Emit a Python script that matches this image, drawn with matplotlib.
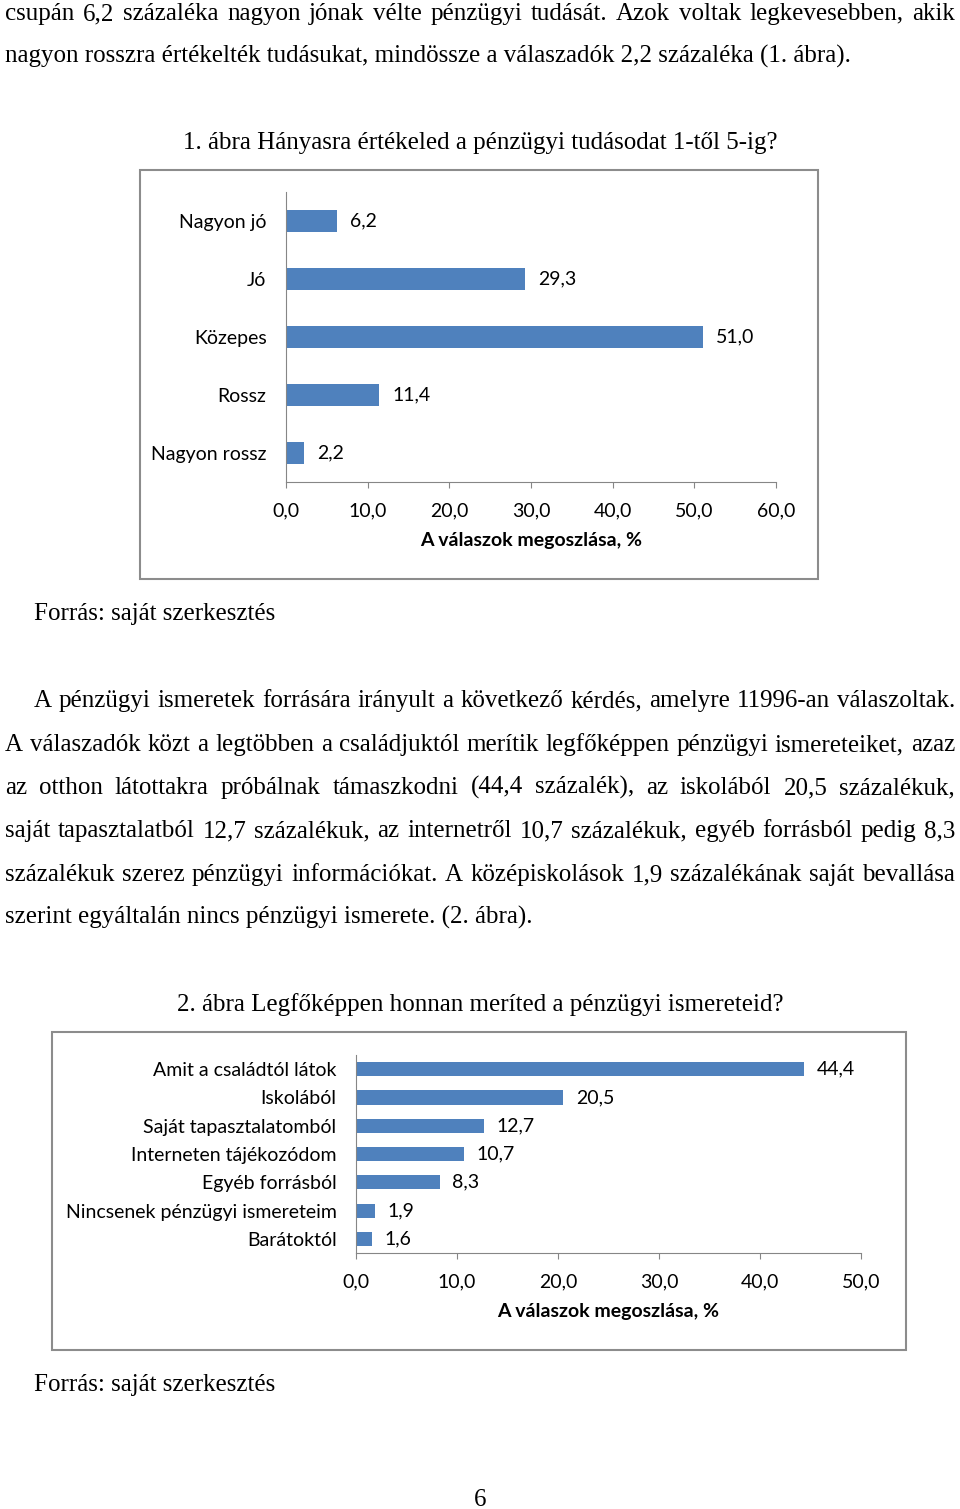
import matplotlib
matplotlib.use('Agg')
import matplotlib.pyplot as plt
from matplotlib.patches import Rectangle

# chart 1 data
cats1 = ['Nagyon jó', 'Jó', 'Közepes', 'Rossz', 'Nagyon rossz']
vals1 = [6.2, 29.3, 51.0, 11.4, 2.2]
ticks1 = [0, 10, 20, 30, 40, 50, 60]

# chart 2 data
cats2 = ['Amit a családtól látok', 'Iskolából', 'Saját tapasztalatomból',
         'Interneten tájékozódom', 'Egyéb forrásból',
         'Nincsenek pénzügyi ismereteim', 'Barátoktól']
vals2 = [44.4, 20.5, 12.7, 10.7, 8.3, 1.9, 1.6]
ticks2 = [0, 10, 20, 30, 40, 50]

W, H = 960, 1509
fig = plt.figure(figsize=(W / 100, H / 100), dpi=100)
renderer = fig.canvas.get_renderer()

SERIF = 'Liberation Serif'
SANS = 'Lato'
BODY = 18
CH = 14
BLUE = '#4F81BD'
GRAY = '#868686'


def fx(x):
    return x / W


def fy(y):
    return 1 - y / H


def put(s, x, y, ha='left', size=BODY):
    return fig.text(fx(x), fy(y), s, ha=ha, va='baseline', family=SERIF,
                    fontsize=size)


def justify(s, x0, x1, y, size=BODY):
    # spread the words so the line fills x0..x1 (justified paragraph)
    words = s.split()
    texts = [put(w, 0, y, size=size) for w in words]
    widths = [t.get_window_extent(renderer).width for t in texts]
    gap = (x1 - x0 - sum(widths)) / (len(words) - 1)
    x = x0
    for t, w in zip(texts, widths):
        t.set_x(fx(x))
        x += w + gap


# body text
justify('csupán 6,2 százaléka nagyon jónak vélte pénzügyi tudását. Azok voltak legkevesebben, akik',
        5, 955, 20)
put('nagyon rosszra értékelték tudásukat, mindössze a válaszadók 2,2 százaléka (1. ábra).', 5, 63)
put('1. ábra Hányasra értékeled a pénzügyi tudásodat 1-től 5-ig?', 480, 149, ha='center')
put('Forrás: saját szerkesztés', 34, 620)

para = [
    ('A pénzügyi ismeretek forrására irányult a következő kérdés, amelyre 11996-an válaszoltak.', 34, 707),
    ('A válaszadók közt a legtöbben a családjuktól merítik legfőképpen pénzügyi ismereteiket, azaz', 5, 751),
    ('az otthon látottakra próbálnak támaszkodni (44,4 százalék), az iskolából 20,5 százalékuk,', 5, 794),
    ('saját tapasztalatból 12,7 százalékuk, az internetről 10,7 százalékuk, egyéb forrásból pedig 8,3', 5, 837),
    ('százalékuk szerez pénzügyi információkat. A középiskolások 1,9 százalékának saját bevallása', 5, 881),
]
for s, x0, y in para:
    justify(s, x0, 955, y)
put('szerint egyáltalán nincs pénzügyi ismerete. (2. ábra).', 5, 924)
put('2. ábra Legfőképpen honnan meríted a pénzügyi ismereteid?', 480, 1011, ha='center')
put('Forrás: saját szerkesztés', 34, 1391)
put('6', 480, 1506, ha='center')

# chart frames
for x0, y0, x1, y1 in [(140, 170, 818, 579), (52, 1032, 906, 1350)]:
    fig.add_artist(Rectangle((fx(x0), fy(y1)), fx(x1 - x0), (y1 - y0) / H,
                             transform=fig.transFigure, fill=False,
                             edgecolor='#8c8c8c', lw=1.5))


def bar_chart(rect, cats, vals, ticks, height, pad):
    ax = fig.add_axes(rect)
    ypos = list(range(len(cats)))[::-1]
    ax.barh(ypos, vals, height=height, color=BLUE)
    ax.set_xlim(ticks[0], ticks[-1])
    ax.set_ylim(-0.5, len(cats) - 0.5)
    ax.set_yticks(ypos)
    ax.set_yticklabels(cats, family=SANS, fontsize=CH)
    ax.set_xticks(ticks)
    ax.set_xticklabels([f'{t:.1f}'.replace('.', ',') for t in ticks],
                       family=SANS, fontsize=CH)
    for y, v in zip(ypos, vals):
        ax.text(v + pad, y, f'{v:.1f}'.replace('.', ','), va='center',
                ha='left', family=SANS, fontsize=CH)
    ax.set_xlabel('A válaszok megoszlása, %', family=SANS, fontsize=CH,
                  fontweight='bold', labelpad=9)
    for side in ['top', 'right']:
        ax.spines[side].set_visible(False)
    for side in ['left', 'bottom']:
        ax.spines[side].set_color(GRAY)
    ax.spines['left'].set_bounds(-0.5 - 0.0, len(cats) - 0.5)
    ax.tick_params(axis='y', length=0, pad=14)
    ax.tick_params(axis='x', direction='out', length=4.5, color=GRAY, pad=10)
    return ax


bar_chart([fx(286), fy(482), fx(776 - 286), 290 / H], cats1, vals1, ticks1, 0.38, 1.6)
bar_chart([fx(356), fy(1253), fx(861 - 356), 198 / H], cats2, vals2, ticks2, 0.5, 1.25)

fig.savefig('out.png', dpi=100)
